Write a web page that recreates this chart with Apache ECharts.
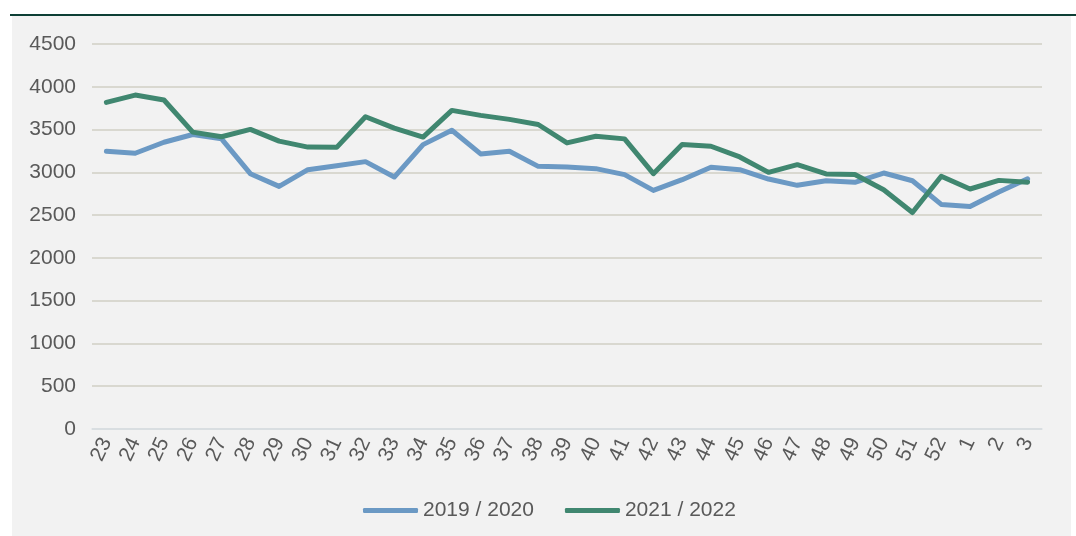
<!DOCTYPE html>
<html>
<head>
<meta charset="utf-8">
<script src="https://cdn.jsdelivr.net/npm/echarts@6/dist/echarts.min.js"></script>
<style>
html,body{margin:0;padding:0;background:#ffffff;}
#chart{width:1076px;height:536px;}
</style>
</head>
<body>
<div id="chart"></div>
<script>
const weeks = ['23','24','25','26','27','28','29','30','31','32','33','34','35','36','37','38','39','40','41','42','43','44','45','46','47','48','49','50','51','52','1','2','3'];
const s2019 = [3246,3223,3352,3442,3391,2984,2836,3031,3078,3125,2945,3324,3492,3215,3246,3070,3063,3043,2973,2789,2914,3059,3031,2922,2848,2902,2883,2992,2902,2625,2600,2770,2925];
const s2021 = [3818,3903,3845,3470,3416,3502,3365,3295,3292,3650,3517,3412,3724,3666,3619,3559,3344,3422,3391,2984,3324,3305,3180,3000,3090,2981,2975,2797,2530,2955,2805,2906,2885];
const seriesNames = ['2019 / 2020','2021 / 2022'];
const yTicks = {min:0, max:4500, interval:500};
const colors = ['#6b99c4','#408770'];

const chart = echarts.init(document.getElementById('chart'));
const font = 'Liberation Sans, Arial, sans-serif';
chart.setOption({
  animation:false,
  graphic:[
    {type:'rect', z:-10, shape:{x:12,y:16,width:1059,height:520}, style:{fill:'#f2f2f2'}},
    {type:'rect', z:-9, shape:{x:10,y:14,width:1066,height:2}, style:{fill:'#0d3f35'}}
  ],
  grid:{left:92,right:34,top:44,bottom:107},
  legend:{
    left:358, top:495, itemWidth:55, itemHeight:5, itemGap:31, icon:'roundRect',
    textStyle:{fontFamily:font,fontSize:21,color:'#595959'},
    data:seriesNames.map((n,i)=>({name:n,itemStyle:{color:colors[i]}}))
  },
  xAxis:{
    type:'category', data:weeks, boundaryGap:true,
    axisLine:{lineStyle:{color:'#d9e0e6',width:1.5}},
    axisTick:{show:false},
    axisLabel:{rotate:65,margin:10,fontFamily:font,fontSize:21,color:'#595959',interval:0}
  },
  yAxis:{
    type:'value', min:yTicks.min, max:yTicks.max, interval:yTicks.interval,
    axisLine:{show:false}, axisTick:{show:false},
    axisLabel:{margin:16,fontFamily:font,fontSize:21,color:'#595959',formatter:v=>String(v)},
    splitLine:{lineStyle:{color:'#d0cfc4',width:1.5}}
  },
  series:[
    {name:seriesNames[0],type:'line',data:s2019,symbol:'none',
     lineStyle:{color:colors[0],width:5,cap:'round',join:'round'},itemStyle:{color:colors[0]}},
    {name:seriesNames[1],type:'line',data:s2021,symbol:'none',
     lineStyle:{color:colors[1],width:5,cap:'round',join:'round'},itemStyle:{color:colors[1]}}
  ]
});
</script>
</body>
</html>
